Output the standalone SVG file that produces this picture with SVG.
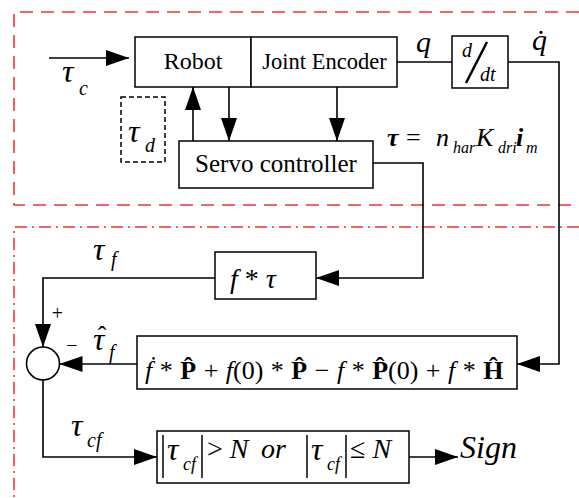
<svg xmlns="http://www.w3.org/2000/svg" width="579" height="498" viewBox="0 0 579 498">
<defs>
<marker id="ah" markerUnits="userSpaceOnUse" markerWidth="23" markerHeight="16" refX="23" refY="8" orient="auto">
<path d="M0,0 L23,8 L0,16 Z" fill="#000"/>
</marker>
<style>
.box{fill:#fff;stroke:#000;stroke-width:1.5}
.ln{fill:none;stroke:#000;stroke-width:1.6}
.i{font-style:italic}
.b{font-weight:bold}
.red1{fill:none;stroke:#ee3535;stroke-width:1.6;stroke-dasharray:13 8}
.red2{fill:none;stroke:#ee3535;stroke-width:1.6;stroke-dasharray:12 5 2 5}
.bar{stroke:#000;stroke-width:1.5}
</style>
</defs>
<rect width="579" height="498" fill="#fff"/>
<g id="region-top">
<path class="red1" d="M579,12 H14 V205 H579"/>
</g>
<g id="region-bottom">
<path class="red2" d="M579,227 H14 V498"/>
</g>
<g id="connectors">
<path class="ln" d="M49,58 H129" marker-end="url(#ah)"/>
<path class="ln" d="M193,141 V87" marker-end="url(#ah)"/>
<path class="ln" d="M229,87 V141" marker-end="url(#ah)"/>
<path class="ln" d="M337,87 V141" marker-end="url(#ah)"/>
<path class="ln" d="M397,62 H452"/>
<path class="ln" d="M508,62 H559 V364 H517" marker-end="url(#ah)"/>
<path class="ln" d="M373,163 H423 V278 H316" marker-end="url(#ah)"/>
<path class="ln" d="M215,278 H43 V347" marker-end="url(#ah)"/>
<path class="ln" d="M137,364 H59.5" marker-end="url(#ah)"/>
<path class="ln" d="M43,380 V457 H157" marker-end="url(#ah)"/>
<path class="ln" d="M409,457 H458" marker-end="url(#ah)"/>
</g>
<g id="robot">
<rect class="box" x="135" y="37" width="116" height="50"/>
<text font-family="Liberation Serif" x="193" y="69" font-size="24" text-anchor="middle">Robot</text>
</g>
<g id="joint-encoder">
<rect class="box" x="251" y="37" width="146" height="50"/>
<text font-family="Liberation Serif" x="324.5" y="69" font-size="22.5" text-anchor="middle">Joint Encoder</text>
</g>
<g id="tau-c">
<text font-family="Liberation Serif" class="i" x="62" y="82" font-size="32">τ</text>
<text font-family="Liberation Serif" class="i" x="79" y="95" font-size="20">c</text>
</g>
<g id="tau-d">
<rect x="121" y="97" width="44" height="65" fill="none" stroke="#000" stroke-width="1.5" stroke-dasharray="5 3"/>
<text font-family="Liberation Serif" class="i" x="128" y="142" font-size="32">τ</text>
<text font-family="Liberation Serif" class="i" x="145" y="152" font-size="20">d</text>
</g>
<g id="servo">
<rect class="box" x="179" y="141" width="194" height="47"/>
<text font-family="Liberation Serif" x="276" y="172" font-size="25" text-anchor="middle">Servo controller</text>
</g>
<g id="q-label">
<text font-family="Liberation Serif" class="i" x="416" y="52" font-size="30">q</text>
</g>
<g id="ddt">
<rect class="box" x="452" y="36" width="56" height="52"/>
<text font-family="Liberation Serif" class="i" x="462" y="57" font-size="20">d</text>
<line x1="466" y1="83" x2="487" y2="42" stroke="#000" stroke-width="2.5"/>
<text font-family="Liberation Serif" class="i" x="480" y="81" font-size="20">dt</text>
</g>
<g id="qdot-label">
<text font-family="Liberation Serif" class="i" x="532" y="50" font-size="30">q̇</text>
</g>
<g id="equation">
<text font-family="Liberation Serif" class="i b" x="387" y="146" font-size="26">τ</text>
<text font-family="Liberation Serif" x="406" y="146" font-size="26">=</text>
<text font-family="Liberation Serif" class="i" x="436" y="146" font-size="26">n</text>
<text font-family="Liberation Serif" class="i" x="453" y="153" font-size="16">har</text>
<text font-family="Liberation Serif" class="i" x="476" y="146" font-size="26">K</text>
<text font-family="Liberation Serif" class="i" x="498" y="153" font-size="16">dri</text>
<text font-family="Liberation Serif" class="i b" x="516" y="146" font-size="26">i</text>
<text font-family="Liberation Serif" class="i" x="526" y="153" font-size="16">m</text>
</g>
<g id="f-tau">
<rect class="box" x="215" y="252" width="101" height="47"/>
<text font-family="Liberation Serif" x="230" y="288" font-size="28"><tspan class="i">f</tspan> * <tspan class="i">τ</tspan></text>
</g>
<g id="tau-f-label">
<text font-family="Liberation Serif" class="i" x="93" y="260" font-size="32">τ</text>
<text font-family="Liberation Serif" class="i" x="111" y="266" font-size="20">f</text>
</g>
<g id="sum">
<circle cx="43" cy="363.5" r="16.5" fill="#fff" stroke="#000" stroke-width="1.6"/>
<text font-family="Liberation Serif" x="57.5" y="320" font-size="20" text-anchor="middle">+</text>
<text font-family="Liberation Serif" x="72" y="352" font-size="20" text-anchor="middle">−</text>
</g>
<g id="tau-hat-label">
<text font-family="Liberation Serif" class="i" x="93" y="350" font-size="32">τ</text>
<text font-family="Liberation Serif" x="102" y="344" font-size="26" text-anchor="middle">ˆ</text>
<text font-family="Liberation Serif" class="i" x="109" y="359" font-size="20">f</text>
</g>
<g id="estimator">
<rect class="box" x="137" y="336" width="380" height="53"/>
<text font-family="Liberation Serif" x="145" y="379" font-size="26" word-spacing="1"><tspan class="i">ḟ</tspan> * <tspan class="b">P̂</tspan> + <tspan class="i">f</tspan>(0) * <tspan class="b">P̂</tspan> − <tspan class="i">f</tspan> * <tspan class="b">P̂</tspan>(0) + <tspan class="i">f</tspan> * <tspan class="b">Ĥ</tspan></text>
</g>
<g id="tau-cf-label">
<text font-family="Liberation Serif" class="i" x="71" y="436" font-size="32">τ</text>
<text font-family="Liberation Serif" class="i" x="87" y="447" font-size="20">cf</text>
</g>
<g id="condition">
<rect class="box" x="157" y="431" width="252" height="52"/>
<line class="bar" x1="163" y1="435" x2="163" y2="478"/>
<line class="bar" x1="202" y1="435" x2="202" y2="478"/>
<line class="bar" x1="307" y1="435" x2="307" y2="478"/>
<line class="bar" x1="346" y1="435" x2="346" y2="478"/>
<text font-family="Liberation Serif" class="i" x="167" y="460" font-size="32">τ</text>
<text font-family="Liberation Serif" class="i" x="183" y="470" font-size="18">cf</text>
<text font-family="Liberation Serif" x="207" y="458" font-size="28">&gt; <tspan class="i">N</tspan></text>
<text font-family="Liberation Serif" class="i" x="261" y="458" font-size="28">or</text>
<text font-family="Liberation Serif" class="i" x="311" y="460" font-size="32">τ</text>
<text font-family="Liberation Serif" class="i" x="327" y="470" font-size="18">cf</text>
<text font-family="Liberation Serif" x="350" y="458" font-size="28">≤ <tspan class="i">N</tspan></text>
</g>
<g id="sign">
<text font-family="Liberation Serif" class="i" x="460" y="458" font-size="32">Sign</text>
</g>
</svg>
